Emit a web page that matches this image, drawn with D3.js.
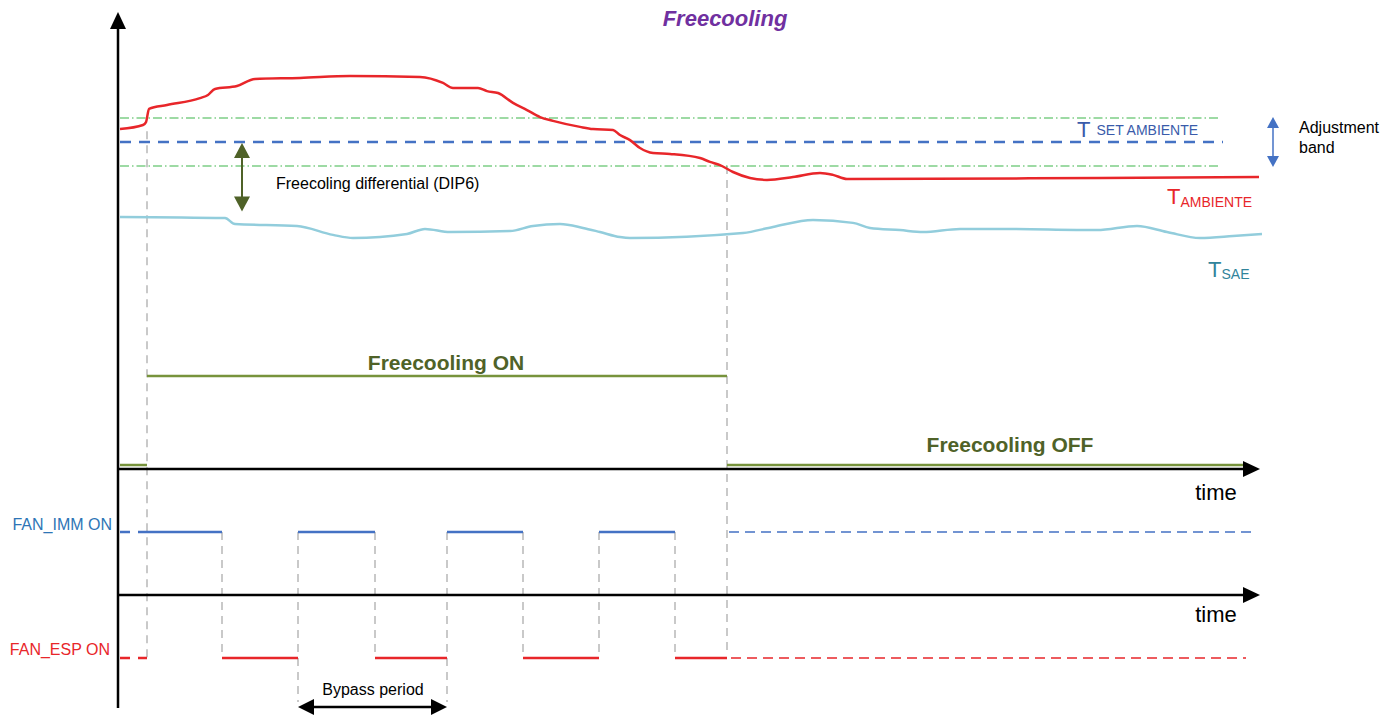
<!DOCTYPE html>
<html>
<head>
<meta charset="utf-8">
<script src="https://cdn.jsdelivr.net/npm/d3@7"></script>
<style>
  body { margin: 0; background: #fff; }
  svg text { font-family: "Liberation Sans", Arial, sans-serif; }
</style>
</head>
<body>
<div id="output"></div>
<script>
// time in arbitrary units, temperature in degrees
const tAmbiente = [
  [0, 24.54], [2.3, 24.71], [2.6, 24.83], [2.9, 25.38], [4.7, 25.54], [8.0, 25.83],
  [8.8, 25.96], [9.5, 26.21], [11.7, 26.33], [13.5, 26.63], [18.0, 26.67], [23.0, 26.75],
  [30.0, 26.71], [32.3, 26.46], [33.3, 26.25], [35.8, 26.25], [36.7, 26.12], [37.8, 26.04],
  [39.3, 25.63], [40.7, 25.33], [42.0, 25.04], [43.3, 24.88], [46.0, 24.63], [47.3, 24.54],
  [49.3, 24.5], [50.0, 24.29], [51.0, 24.08], [52.0, 23.75], [53.3, 23.54], [55.0, 23.5],
  [58.0, 23.33], [59.0, 23.17], [60.0, 23.04], [61.3, 22.75], [63.0, 22.5], [64.7, 22.42],
  [67.3, 22.54], [70.0, 22.71], [71.3, 22.63], [72.7, 22.46], [98.0, 22.5], [113.9, 22.54]
];
const tSae = [
  [0, 20.88], [10.5, 20.83], [11.5, 20.58], [17.7, 20.5], [21.3, 20.13], [23.3, 20.0],
  [28.7, 20.17], [30.5, 20.38], [33.0, 20.25], [39.0, 20.29], [41.3, 20.5], [44.0, 20.58],
  [46.3, 20.42], [48.0, 20.25], [50.0, 20.04], [51.0, 20.0], [62.3, 20.21], [65.3, 20.46],
  [69.3, 20.75], [73.3, 20.63], [75.0, 20.42], [78.0, 20.33], [80.3, 20.25], [84.0, 20.38],
  [88.0, 20.38], [97.7, 20.33], [101.7, 20.5], [104.7, 20.25], [108.0, 20.0], [111.3, 20.08],
  [114.2, 20.17]
];
const setPoint = 24;
const bandHalf = 1;
const dip6 = 2.9;
const fcOn = 2.7, fcOff = 60.7, tEnd = 112.5;
// fan switching instants: IMM on in first interval, then alternating with ESP
const fanSwitch = [2.7, 10.2, 17.8, 25.5, 32.7, 40.3, 47.9, 55.5, 60.7];
const bypass = [17.8, 32.7];

const W = 1397, H = 718;
const svg = d3.select('#output').append('svg').attr('width', W).attr('height', H);

const x = d3.scaleLinear().domain([0, 114]).range([120, 1260]);
const yT = d3.scaleLinear().domain([18, 28]).range([286, 46]);
const yFc = d3.scalePoint().domain(['ON', 'OFF']).range([376, 465]);
const yFan = d3.scalePoint().domain(['IMM', 'ESP']).range([532, 658]);
const ax1 = 469, ax2 = 595;
const x0 = 118;

const grayDash = '#c9c9c9';

function arrowHead(g, tipX, tipY, dir, len, half, color) {
  let pts;
  if (dir === 'up') pts = [[tipX, tipY], [tipX - half, tipY + len], [tipX + half, tipY + len]];
  if (dir === 'down') pts = [[tipX, tipY], [tipX - half, tipY - len], [tipX + half, tipY - len]];
  if (dir === 'right') pts = [[tipX, tipY], [tipX - len, tipY - half], [tipX - len, tipY + half]];
  if (dir === 'left') pts = [[tipX, tipY], [tipX + len, tipY - half], [tipX + len, tipY + half]];
  g.append('polygon').attr('points', pts.map(p => p.join(',')).join(' ')).attr('fill', color);
}

// gray dashed verticals
const vert = svg.append('g').attr('stroke', grayDash).attr('stroke-width', 2).attr('stroke-dasharray', '8,6');
vert.append('line').attr('x1', x(fcOn)).attr('x2', x(fcOn)).attr('y1', yT(24.45)).attr('y2', yFan('ESP'));
vert.append('line').attr('x1', x(fcOff)).attr('x2', x(fcOff)).attr('y1', yT(setPoint - bandHalf)).attr('y2', yFan('ESP') - 4);
fanSwitch.slice(1, -1).forEach(t => {
  const bottom = bypass.includes(t) ? 702 : yFan('ESP');
  vert.append('line').attr('x1', x(t)).attr('x2', x(t)).attr('y1', yFan('IMM')).attr('y2', bottom);
});

// adjustment band lines
const band = svg.append('g').attr('stroke', '#3db54a').attr('stroke-width', 1.2).attr('stroke-dasharray', '9,3,1.5,3');
[setPoint + bandHalf, setPoint - bandHalf].forEach(v => {
  band.append('line').attr('x1', x(0)).attr('x2', x(110)).attr('y1', yT(v)).attr('y2', yT(v));
});
// set point
svg.append('line').attr('x1', x(0)).attr('x2', x(110.3)).attr('y1', yT(setPoint)).attr('y2', yT(setPoint))
  .attr('stroke', '#4472c4').attr('stroke-width', 2.5).attr('stroke-dasharray', '11,8');

// curves
const line = d3.line().x(d => x(d[0])).y(d => yT(d[1])).curve(d3.curveMonotoneX);
svg.append('path').attr('d', line(tSae)).attr('fill', 'none').attr('stroke', '#92cddc').attr('stroke-width', 2.5);
svg.append('path').attr('d', line(tAmbiente)).attr('fill', 'none').attr('stroke', '#e8262a').attr('stroke-width', 2.5);

// freecooling state
const fcG = svg.append('g').attr('stroke', '#77933c').attr('stroke-width', 2.5).attr('fill', 'none');
fcG.append('path').attr('d', `M${x(0)},${yFc('OFF')}H${x(fcOn)}`);
fcG.append('path').attr('d', `M${x(fcOn)},${yFc('ON')}H${x(fcOff)}`);
fcG.append('path').attr('d', `M${x(fcOff)},${yFc('OFF')}H${x(tEnd)}`);

// fans
const fan = svg.append('g').attr('fill', 'none');
fan.append('path').attr('d', `M${x(0)},${yFan('IMM')}H${x(fcOn)}`)
  .attr('stroke', '#4472c4').attr('stroke-width', 2.5).attr('stroke-dasharray', '10,8');
fan.append('path').attr('d', `M${x(0)},${yFan('ESP')}H${x(fcOn)}`)
  .attr('stroke', '#e8262a').attr('stroke-width', 2.5).attr('stroke-dasharray', '10,8');
for (let i = 0; i < fanSwitch.length - 1; i++) {
  const key = i % 2 === 0 ? 'IMM' : 'ESP';
  fan.append('path').attr('d', `M${x(fanSwitch[i])},${yFan(key)}H${x(fanSwitch[i + 1])}`)
    .attr('stroke', key === 'IMM' ? '#4472c4' : '#e8262a').attr('stroke-width', 2.5);
}
fan.append('path').attr('d', `M${x(fcOff) + 2},${yFan('IMM')}H${x(113.1)}`)
  .attr('stroke', '#4472c4').attr('stroke-width', 1.3).attr('stroke-dasharray', '10,6');
fan.append('path').attr('d', `M${x(fcOff) + 4},${yFan('ESP')}H${x(112.6)}`)
  .attr('stroke', '#e8262a').attr('stroke-width', 1.3).attr('stroke-dasharray', '10,6');

// axes
const axes = svg.append('g').attr('stroke', '#000').attr('stroke-width', 2.5);
axes.append('line').attr('x1', x0).attr('x2', x0).attr('y1', 708).attr('y2', 26);
arrowHead(svg, x0, 12, 'up', 17, 8, '#000');
[ax1, ax2].forEach(yy => {
  axes.append('line').attr('x1', x0).attr('x2', 1246).attr('y1', yy).attr('y2', yy);
  arrowHead(svg, 1260, yy, 'right', 17, 8, '#000');
});

// differential arrow
const dg = svg.append('g');
dg.append('line').attr('x1', 242).attr('x2', 242).attr('y1', yT(setPoint) + 10).attr('y2', yT(setPoint - dip6) - 10)
  .attr('stroke', '#4f6228').attr('stroke-width', 2);
arrowHead(dg, 242, yT(setPoint) + 1, 'up', 15, 8, '#4f6228');
arrowHead(dg, 242, yT(setPoint - dip6), 'down', 15, 8, '#4f6228');

// adjustment band arrow
const ab = svg.append('g');
ab.append('line').attr('x1', 1273).attr('x2', 1273).attr('y1', yT(setPoint + bandHalf) + 8).attr('y2', yT(setPoint - bandHalf) - 8)
  .attr('stroke', '#4472c4').attr('stroke-width', 1.5);
arrowHead(ab, 1273, yT(setPoint + bandHalf) - 1, 'up', 11, 6, '#4472c4');
arrowHead(ab, 1273, yT(setPoint - bandHalf) + 1, 'down', 11, 6, '#4472c4');

// bypass arrow
const bp = svg.append('g');
bp.append('line').attr('x1', x(bypass[0]) + 10).attr('x2', x(bypass[1]) - 10).attr('y1', 707).attr('y2', 707)
  .attr('stroke', '#000').attr('stroke-width', 2.5);
arrowHead(bp, x(bypass[0]), 707, 'left', 16, 8, '#000');
arrowHead(bp, x(bypass[1]), 707, 'right', 16, 8, '#000');

// texts
function txt(str, px, py, opts) {
  const t = svg.append('text').attr('x', px).attr('y', py).text(str)
    .attr('font-size', opts.size || 16).attr('fill', opts.color || '#000');
  if (opts.anchor) t.attr('text-anchor', opts.anchor);
  if (opts.weight) t.attr('font-weight', opts.weight);
  if (opts.style) t.attr('font-style', opts.style);
  return t;
}
txt('Freecooling', 725, 26, {size: 22, weight: 'bold', style: 'italic', color: '#7030a0', anchor: 'middle'});
txt('Freecoling differential (DIP6)', 276, 189, {size: 16});
txt('Freecooling ON', 446, 370, {size: 21, weight: 'bold', color: '#4f6228', anchor: 'middle'});
txt('Freecooling OFF', 1010, 452, {size: 21, weight: 'bold', color: '#4f6228', anchor: 'middle'});
txt('time', 1216, 500, {size: 22, anchor: 'middle'});
txt('time', 1216, 622, {size: 22, anchor: 'middle'});
txt('FAN_IMM ON', 112, 530, {size: 16, color: '#2e75b6', anchor: 'end'});
txt('FAN_ESP ON', 110, 655, {size: 16, color: '#e8262a', anchor: 'end'});
txt('Bypass period', 373, 695, {size: 16, anchor: 'middle'});
txt('Adjustment', 1299, 133, {size: 16});
txt('band', 1299, 153, {size: 16});

const ts = txt('T', 1077, 137, {size: 22, color: '#3a5baa'});
ts.append('tspan').attr('font-size', 14).attr('dx', 6).attr('dy', -2).text('SET AMBIENTE');
const ta = txt('T', 1167, 204, {size: 22, color: '#e8262a'});
ta.append('tspan').attr('font-size', 14).attr('dy', 3).text('AMBIENTE');
const tsae = txt('T', 1208, 277, {size: 22, color: '#31849b'});
tsae.append('tspan').attr('font-size', 14).attr('dy', 2).text('SAE');
</script>
</body>
</html>
